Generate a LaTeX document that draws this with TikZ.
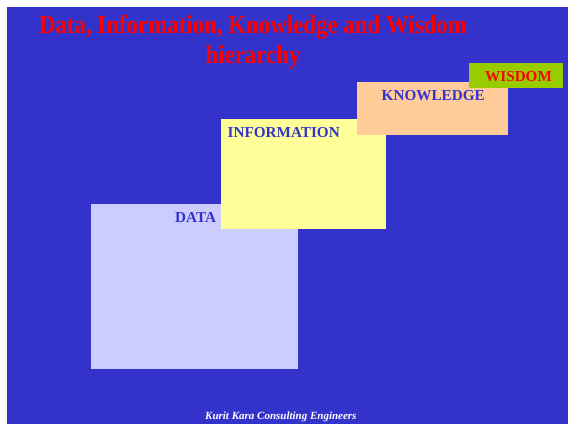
\documentclass[tikz,border=0pt]{standalone}
\usepackage{fontspec}
\setmainfont{Liberation Serif}
\newfontfamily\titlefont[FakeStretch=0.88]{Liberation Serif}
\definecolor{bg}{HTML}{3333CC}
\definecolor{databox}{HTML}{CCCCFF}
\definecolor{infobox}{HTML}{FFFF99}
\definecolor{knowbox}{HTML}{FFCC99}
\definecolor{wisbox}{HTML}{99CC00}
\definecolor{titlered}{HTML}{FF0000}
\begin{document}
\begin{tikzpicture}[x=1pt,y=-1pt,
  boxlabel/.style={anchor=base west,inner sep=0pt,font=\fontsize{15.2}{18}\selectfont\bfseries},
]
\useasboundingbox (0,0) rectangle (568,424);
\fill[white] (0,0) rectangle (568,424);
\fill[bg] (7,7) rectangle (568,424);
% boxes
\fill[databox] (91,204) rectangle (298,369);
\fill[infobox] (221,119) rectangle (386,229);
\fill[knowbox] (357,82) rectangle (508,135);
\fill[wisbox] (469,63) rectangle (563,88);
% labels
\node[boxlabel,text=bg] (data) at (175,222) {DATA};
\node[boxlabel,text=bg] (info) at (227.5,137) {INFORMATION};
\node[boxlabel,text=bg] (know) at (381.5,100) {KNOWLEDGE};
\node[boxlabel,text=titlered] (wis) at (485,81) {WISDOM};
% title
\node[anchor=base,inner sep=0pt,align=center,text=titlered,
  font=\titlefont\fontsize{26}{30}\selectfont\bfseries] (title) at (253,63)
  {Data, Information, Knowledge and Wisdom\\hierarchy};
% footer
\node[anchor=base west,inner sep=0pt,text=white,
  font=\fontsize{11}{13}\selectfont\bfseries\itshape] (footer) at (205,419)
  {Kurit Kara Consulting Engineers};
\end{tikzpicture}
\end{document}
